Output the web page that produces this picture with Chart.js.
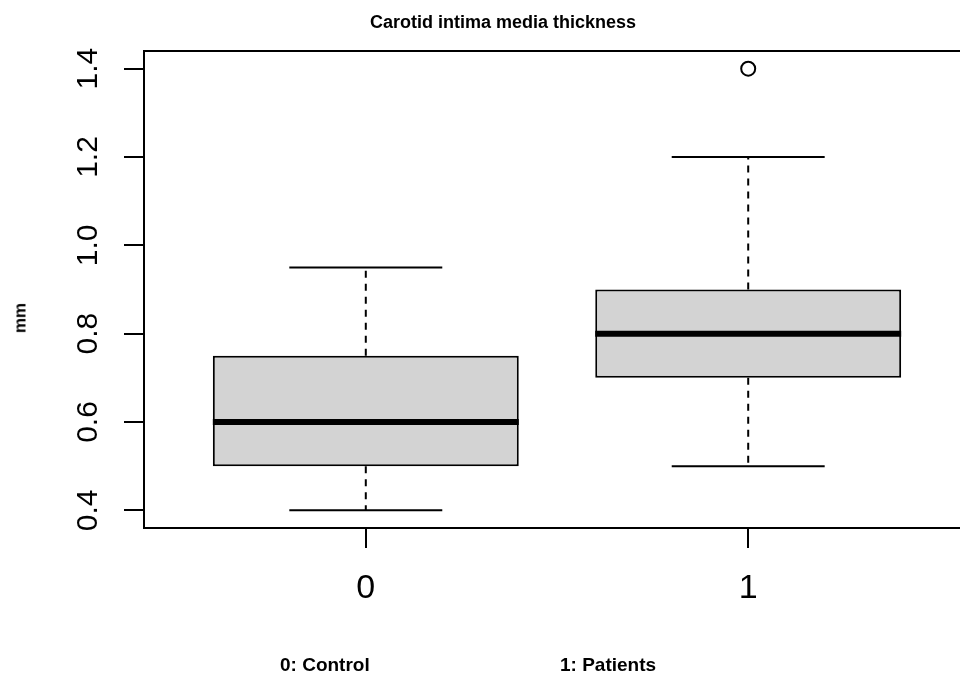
<!DOCTYPE html>
<html>
<head>
<meta charset="utf-8">
<script src="https://cdn.jsdelivr.net/npm/chart.js@4/dist/chart.umd.min.js"></script>
<style>
  html, body { margin: 0; padding: 0; background: #fff; overflow: hidden; }
  #wrap { position: relative; width: 960px; height: 675px; overflow: hidden; }
  #chart { position: absolute; left: 0; top: 0; }
  .txt { position: absolute; font-family: "Liberation Sans", Arial, sans-serif; font-weight: bold; color: #000; white-space: nowrap; }
</style>
</head>
<body>
<div id="wrap">
  <canvas id="chart" width="980" height="675"></canvas>
  <div class="txt" id="title" style="left:503px; top:13px; font-size:18px; line-height:18px; transform:translateX(-50%);">Carotid intima media thickness</div>
  <div class="txt" id="ylab" style="left:20px; top:318px; font-size:17px; line-height:17px; transform:translate(-50%,-50%) rotate(-90deg);">mm</div>
  <div class="txt" style="left:280px; top:655px; font-size:19px; line-height:19px;">0: Control</div>
  <div class="txt" style="left:560px; top:655px; font-size:19px; line-height:19px;">1: Patients</div>
</div>
<script>
// dados do boxplot
const groups = ['0', '1'];
const mins = [0.40, 0.50];
const q1s = [0.50, 0.70];
const medians = [0.60, 0.80];
const q3s = [0.75, 0.90];
const maxs = [0.95, 1.20];
const outlierGroup = [1];
const outlierValues = [1.40];
const yTicks = [0.4, 0.6, 0.8, 1.0, 1.2, 1.4];

const BOX_W = 0.8;
const CAP_W = 0.4;

// posições das categorias: 1, 2, ...
const pos = groups.map((g, i) => i + 1);

const boxData = pos.map((p, i) => ({ x: p, y: [q1s[i], q3s[i]] }));

const whiskerData = [];
const capData = [];
const medianData = [];
pos.forEach((p, i) => {
    whiskerData.push({ x: p, y: q3s[i] }, { x: p, y: maxs[i] }, { x: p, y: null });
    whiskerData.push({ x: p, y: q1s[i] }, { x: p, y: mins[i] }, { x: p, y: null });
    capData.push({ x: p - CAP_W / 2, y: maxs[i] }, { x: p + CAP_W / 2, y: maxs[i] }, { x: p, y: null });
    capData.push({ x: p - CAP_W / 2, y: mins[i] }, { x: p + CAP_W / 2, y: mins[i] }, { x: p, y: null });
    medianData.push({ x: p - BOX_W / 2, y: medians[i] }, { x: p + BOX_W / 2, y: medians[i] }, { x: p, y: null });
});
const outlierData = outlierValues.map((v, k) => ({ x: pos[outlierGroup[k]], y: v }));

// moldura em volta da área do gráfico
const frame = {
    id: 'frame',
    afterDraw(chart) {
        const { ctx, chartArea: a } = chart;
        ctx.save();
        ctx.strokeStyle = '#000';
        ctx.lineWidth = 2;
        ctx.strokeRect(a.left, a.top, a.right - a.left, a.bottom - a.top);
        ctx.restore();
    }
};

// rótulos do eixo y girados, como no R
const yLabels = {
    id: 'yLabels',
    afterDraw(chart) {
        const { ctx } = chart;
        const scale = chart.scales.y;
        ctx.save();
        ctx.fillStyle = '#000';
        ctx.font = '30px "Liberation Sans", Arial, sans-serif';
        ctx.textAlign = 'center';
        ctx.textBaseline = 'middle';
        scale.ticks.forEach(t => {
            const py = scale.getPixelForValue(t.value);
            ctx.save();
            ctx.translate(89, py);
            ctx.rotate(-Math.PI / 2);
            ctx.fillText(t.value.toFixed(1), 0, 0);
            ctx.restore();
        });
        ctx.restore();
    }
};

const lineDs = (data, extra) => Object.assign({
    type: 'scatter',
    data: data,
    showLine: true,
    spanGaps: false,
    borderColor: '#000',
    borderWidth: 2,
    pointRadius: 0,
    pointHoverRadius: 0,
    fill: false
}, extra);

new Chart(document.getElementById('chart'), {
    type: 'scatter',
    data: {
        datasets: [
            lineDs(whiskerData, { borderDash: [7, 6], order: 5 }),
            lineDs(capData, { order: 5 }),
            {
                type: 'bar',
                data: boxData,
                backgroundColor: '#d3d3d3',
                borderColor: '#000',
                borderWidth: 2,
                borderSkipped: false,
                barPercentage: BOX_W,
                categoryPercentage: 1,
                order: 3
            },
            lineDs(medianData, { borderWidth: 6, borderCapStyle: 'butt', order: 1 }),
            {
                type: 'scatter',
                data: outlierData,
                pointRadius: 7,
                pointBorderWidth: 2,
                borderColor: '#000',
                backgroundColor: '#fff',
                order: 0
            }
        ]
    },
    options: {
        responsive: false,
        animation: false,
        layout: { padding: { top: 51, right: 10, bottom: 0, left: 0 } },
        plugins: {
            legend: { display: false },
            tooltip: { enabled: false },
            title: { display: false }
        },
        scales: {
            x: {
                type: 'linear',
                min: 0.42,
                max: pos.length + 0.58,
                offset: false,
                afterBuildTicks: s => { s.ticks = pos.map(v => ({ value: v })); },
                afterFit: s => { s.height = 147; },
                ticks: {
                    color: '#000',
                    font: { family: '"Liberation Sans", Arial, sans-serif', size: 34 },
                    padding: 20,
                    maxRotation: 0,
                    callback: v => groups[v - 1]
                },
                grid: { offset: false, drawOnChartArea: false, drawTicks: true, tickLength: 20, color: '#000', lineWidth: 2 },
                border: { display: false }
            },
            y: {
                type: 'linear',
                min: 0.36,
                max: 1.44,
                beginAtZero: false,
                afterBuildTicks: s => { s.ticks = yTicks.map(v => ({ value: v })); },
                afterFit: s => { s.width = 144; },
                ticks: { display: false },
                grid: { offset: false, drawOnChartArea: false, drawTicks: true, tickLength: 20, color: '#000', lineWidth: 2 },
                border: { display: false }
            }
        }
    },
    plugins: [frame, yLabels]
});
</script>
</body>
</html>
